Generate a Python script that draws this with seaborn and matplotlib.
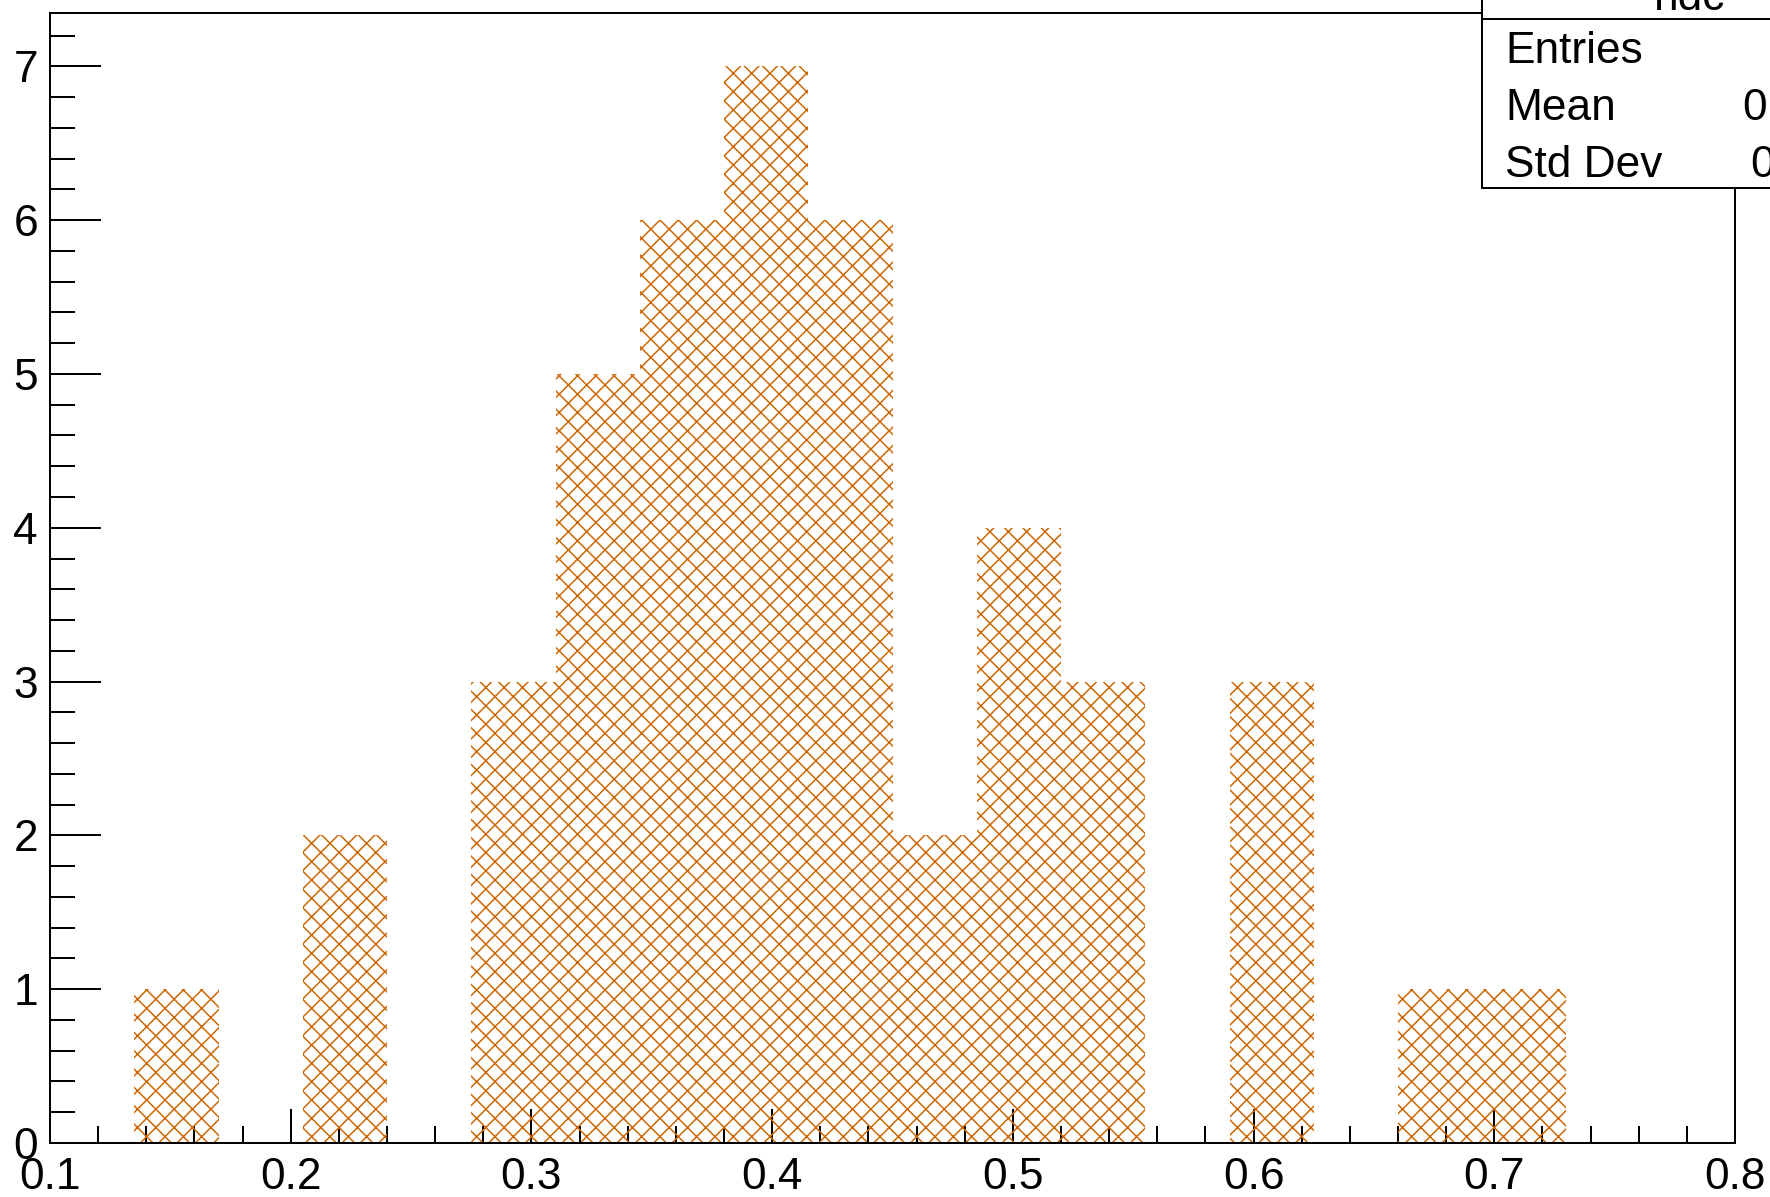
import numpy as np
import pandas as pd
import matplotlib
matplotlib.use("Agg")
import matplotlib.pyplot as plt
import seaborn as sns
from matplotlib.patches import Rectangle

# ---- data ----
x_min, x_max, n_bins = 0.1, 0.8, 20
counts = [0, 1, 0, 2, 0, 3, 5, 6, 7, 6, 2, 4, 3, 0, 3, 0, 1, 1, 0, 0]
x_tick_labels = ["0.1", "0.2", "0.3", "0.4", "0.5", "0.6", "0.7", "0.8"]
y_tick_labels = ["0", "1", "2", "3", "4", "5", "6", "7"]
hist_title = "hdc"
stat_names = ["Entries", "Mean", "Std Dev"]
stat_values = ["44", "0.4190", "0.1208"]

edges = np.linspace(x_min, x_max, n_bins + 1)
centers = 0.5 * (edges[:-1] + edges[1:])
df = pd.DataFrame({"x": centers, "w": counts})

W, H, DPI = 1770, 1197, 110


def pt(px):
    """pixels -> points at the output dpi"""
    return px * 72.0 / DPI


sns.set_style("white")
plt.rcParams["font.family"] = ["Liberation Sans", "DejaVu Sans"]
plt.rcParams["text.color"] = "black"
plt.rcParams["hatch.linewidth"] = pt(1.5)

fig = plt.figure(figsize=(W / DPI, H / DPI), dpi=DPI)
ax = fig.add_axes([50 / W, 54 / H, 1685 / W, 1130.5 / H])

col = "#cc6600"
sns.histplot(data=df, x="x", weights="w", bins=n_bins,
             binrange=(x_min, x_max), ax=ax, color=col, fill=True, alpha=1)
for p in ax.patches:
    p.set_facecolor("none")
    p.set_edgecolor(col)
    p.set_hatch("xx")
    p.set_linewidth(0)

ax.set_xlim(x_min, x_max)
ax.set_ylim(0, 7.35)
ax.set_xlabel("")
ax.set_ylabel("")
ax.set_xticks(np.arange(len(x_tick_labels)) * 0.1 + 0.1)
ax.set_xticklabels(x_tick_labels)
ax.set_xticks(np.arange(0.1, 0.8001, 0.02), minor=True)
ax.set_yticks(np.arange(len(y_tick_labels)))
ax.set_yticklabels(y_tick_labels)
ax.set_yticks(np.arange(0, 7.35, 0.2), minor=True)

for s in ax.spines.values():
    s.set_color("black")
    s.set_linewidth(pt(2))

fs = pt(44.3)
ax.tick_params(which="both", direction="in", bottom=True, left=True,
               top=False, right=False, colors="black", width=pt(2),
               labelsize=fs)
ax.tick_params(axis="x", which="major", length=pt(34), pad=pt(14))
ax.tick_params(axis="x", which="minor", length=pt(17))
ax.tick_params(axis="y", which="major", length=pt(50.5), pad=pt(12))
ax.tick_params(axis="y", which="minor", length=pt(25))

# ---- stats box (ROOT style, partially outside the canvas) ----
bx = 1482 / W
fig.add_artist(Rectangle((bx, 1 - 188 / H), 0.3, (188 - 19) / H,
                         transform=fig.transFigure, facecolor="white",
                         edgecolor="black", lw=pt(2), zorder=10))
fig.add_artist(Rectangle((bx, 1 - 19 / H), 0.3, 0.1,
                         transform=fig.transFigure, facecolor="white",
                         edgecolor="black", lw=pt(2), zorder=10))
fig.text(1690 / W, 1 - 10 / H, hist_title, ha="center", va="baseline",
         fontsize=fs, color="black", zorder=11)
base_y = [63, 120, 177]
val_x = [1800, 1742, 1750]
for name, val, by, vx in zip(stat_names, stat_values, base_y, val_x):
    fig.text(1505 / W, 1 - by / H, name, ha="left", va="baseline",
             fontsize=fs, color="black", zorder=11)
    fig.text(vx / W, 1 - by / H, val, ha="left", va="baseline",
             fontsize=fs, color="black", zorder=11)

fig.savefig("out.png", dpi=DPI)
